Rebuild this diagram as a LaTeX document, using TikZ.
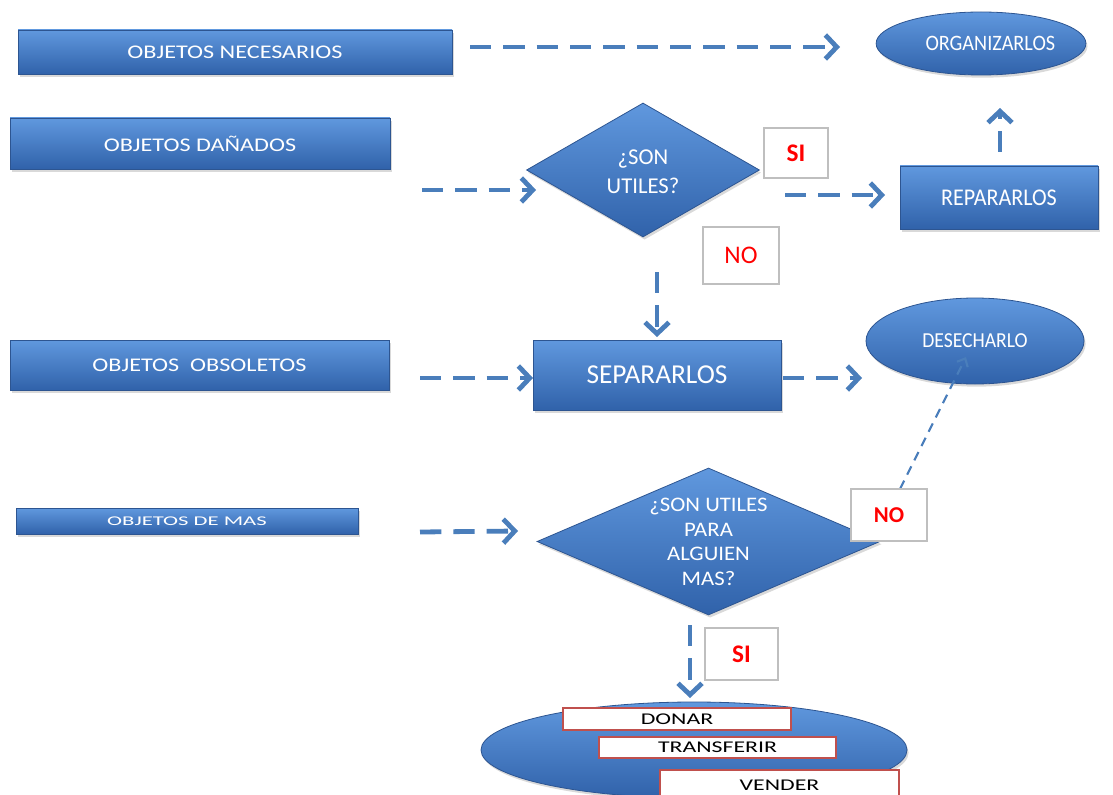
\documentclass[tikz,border=0pt]{standalone}
\usepackage{fontspec}
\setmainfont{Carlito}
\newfontfamily\wideA[FakeStretch=1.25]{Carlito}
\newfontfamily\wideB[FakeStretch=1.7]{Carlito}
\newfontfamily\wideC[FakeStretch=1.1]{Carlito}
\newfontfamily\wideD[FakeStretch=1.45]{Carlito}
\newfontfamily\narrowA[FakeStretch=0.92]{Carlito}
\usetikzlibrary{arrows.meta,shapes.geometric,shadows}

\definecolor{boxtop}{RGB}{96,152,222}
\definecolor{boxmid}{RGB}{63,125,202}
\definecolor{boxbot}{RGB}{48,98,170}
\definecolor{boxline}{RGB}{45,85,145}
\definecolor{flowblue}{RGB}{74,126,187}
\definecolor{labgray}{RGB}{191,191,191}
\definecolor{optred}{RGB}{192,80,77}

\tikzset{
  blueshape/.style={draw=boxline, line width=0.6pt,
    top color=boxtop, middle color=boxmid, bottom color=boxbot,
    drop shadow={opacity=0.3, shadow xshift=1.2pt, shadow yshift=-2pt},
    text=white, inner sep=0pt},
  rectbox/.style={blueshape, rectangle},
  ovalbox/.style={blueshape, ellipse},
  decision/.style={blueshape, diamond, align=center},
  answer/.style={draw=labgray, line width=1.5pt, fill=white, text=red, inner sep=0pt},
  option/.style={draw=optred, line width=2.2pt, fill=white, text=black, inner sep=0pt},
  flow/.style={draw=flowblue, line width=3.6pt, dash pattern=on 16pt off 9pt,
    -{Straight Barb[length=8.5pt,width=18pt]}},
  thinflow/.style={draw=flowblue, line width=1.6pt, dash pattern=on 7pt off 5pt,
    -{Straight Barb[length=5pt,width=9pt]}}
}

\begin{document}
\begin{tikzpicture}[x=0.75pt,y=-0.75pt]
\useasboundingbox (0,0) rectangle (1113,795);

% left column of object groups
\node[rectbox, minimum width=325.5pt, minimum height=33pt,
  font=\wideA\fontsize{14.5}{17}\selectfont] (nec) at (235,52) {OBJETOS NECESARIOS};
\node[rectbox, minimum width=285pt, minimum height=38.25pt,
  font=\wideA\fontsize{14.5}{17}\selectfont] (dan) at (200,143.5) {OBJETOS DAÑADOS};
\node[rectbox, minimum width=284.25pt, minimum height=37.5pt,
  font=\wideA\fontsize{14.5}{17}\selectfont] (obs) at (199.5,365) {OBJETOS\ \ OBSOLETOS};
\node[rectbox, minimum width=256.5pt, minimum height=19.5pt,
  font=\wideB\fontsize{10}{12}\selectfont] (mas) at (187,521) {OBJETOS DE MAS};

% actions
\node[ovalbox, minimum width=154.5pt, minimum height=47.25pt,
  font=\narrowA\fontsize{16.5}{18}\selectfont] (org) at (981,43.5)
  {\hspace*{14pt}ORGANIZARLOS};
\node[rectbox, minimum width=148.5pt, minimum height=47.25pt,
  font=\narrowA\fontsize{18}{20}\selectfont] (rep) at (999,197.5) {REPARARLOS};
\node[rectbox, minimum width=186pt, minimum height=52.5pt,
  font=\fontsize{20.5}{24}\selectfont] (sep) at (657,375) {SEPARARLOS};
\node[ovalbox, minimum width=163.5pt, minimum height=64.5pt,
  font=\narrowA\fontsize{16}{18}\selectfont] (des) at (975,341) {DESECHARLO};

% decisions (text smashed so the shape keeps its given size)
\node[decision, minimum width=174.75pt, minimum height=100.5pt,
  font=\fontsize{17}{22}\selectfont] (util) at (643,170)
  {\smash{\raisebox{-6.5pt}{\begin{tabular}{@{}c@{}}¿SON\\UTILES?\end{tabular}}}};
\node[decision, minimum width=257.25pt, minimum height=110.25pt,
  font=\wideC\fontsize{15.5}{18.4}\selectfont] (otro) at (708.5,541.5)
  {\smash{\raisebox{-5.25pt}{\begin{tabular}{@{}c@{}}¿SON UTILES\\PARA\\ALGUIEN\\MAS?\end{tabular}}}};

% destination of reusable objects
\node[ovalbox, minimum width=319.5pt, minimum height=72pt] (dest) at (694,750) {};
\node[option, minimum width=171pt, minimum height=16.5pt,
  font=\wideD\fontsize{12.3}{14}\selectfont] (donar) at (677,719) {DONAR};
\node[option, minimum width=177.75pt, minimum height=15.75pt,
  font=\wideD\fontsize{12.3}{14}\selectfont] (transf) at (717.5,747.5) {TRANSFERIR};
\node[option, minimum width=179.25pt, minimum height=22.5pt,
  font=\wideD\fontsize{12.3}{14}\selectfont] (vender) at (779.5,785) {VENDER};

% answer labels
\node[answer, minimum width=48pt, minimum height=37.5pt,
  font=\bfseries\fontsize{19}{22}\selectfont] (si1) at (796,153) {SI};
\node[answer, minimum width=57pt, minimum height=42.75pt,
  font=\fontsize{19}{22}\selectfont] (no1) at (741,255.5) {NO};
\node[answer, minimum width=54.75pt, minimum height=39pt,
  font=\bfseries\fontsize{19}{22}\selectfont] (si2) at (741.5,654) {SI};

% connector end points
\coordinate (a1s) at (470,47);   \coordinate (a1e) at (840,47);
\coordinate (a2s) at (422,190);  \coordinate (a2e) at (536,190);
\coordinate (a3s) at (785,195);  \coordinate (a3e) at (885,195);
\coordinate (a4s) at (1000,152); \coordinate (a4e) at (1000,108);
\coordinate (a5s) at (657,272);  \coordinate (a5e) at (657,337);
\coordinate (a6s) at (420,378);  \coordinate (a6e) at (533,378);
\coordinate (a7s) at (783,378);  \coordinate (a7e) at (862,378);
\coordinate (a8s) at (900,489);  \coordinate (a8e) at (966,357);
\coordinate (a9s) at (420,532);  \coordinate (a9e) at (518,531);
\coordinate (a10s) at (690,625); \coordinate (a10e) at (690,698);

\draw[flow] (a1s) -- (a1e);
\draw[flow] (a2s) -- (a2e);
\draw[flow] (a3s) -- (a3e);
\draw[flow] (a4s) -- (a4e);
\draw[flow] (a5s) -- (a5e);
\draw[flow] (a6s) -- (a6e);
\draw[flow] (a7s) -- (a7e);
\draw[thinflow] (a8s) -- (a8e);
\draw[flow] (a9s) -- (a9e);
\draw[flow] (a10s) -- (a10e);

\node[answer, minimum width=57pt, minimum height=39pt,
  font=\bfseries\fontsize{17}{20}\selectfont] (no2) at (889,515) {NO};
\end{tikzpicture}
\end{document}
